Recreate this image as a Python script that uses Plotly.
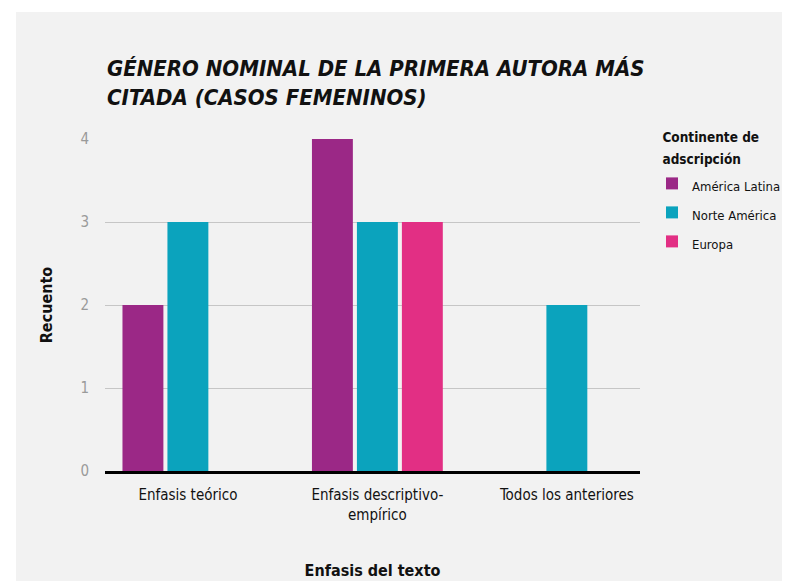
import plotly.graph_objects as go

categories = ["Enfasis teórico", "Enfasis descriptivo-<br>empírico", "Todos los anteriores"]
series_names = ["América Latina", "Norte América", "Europa"]
america_latina = [2, 4, None]
norte_america = [3, 3, 2]
europa = [None, 3, None]
y_ticks = [0, 1, 2, 3, 4]

colors = ["#9b2886", "#0ba3bd", "#e22f84"]
FONT = "DejaVu Sans Condensed, Liberation Sans Narrow, Arial Narrow, sans-serif"
INK = "#111111"

fig = go.Figure()
for name, vals, col in zip(series_names, [america_latina, norte_america, europa], colors):
    fig.add_trace(go.Bar(
        x=categories, y=vals, name=f"<span style='font-size:13px'>{name}</span>",
        marker=dict(color=col, line=dict(width=0)),
    ))

# figure is drawn 8px right/down of the window corner (page body margin)
L, R, T, B = 97, 158, 131, 118
PW, PH = 790 - L - R, 581 - T - B
fig.update_layout(
    width=790, height=581,
    paper_bgcolor="#f2f2f2", plot_bgcolor="#f2f2f2",
    margin=dict(l=L, r=R, t=T, b=B, autoexpand=False),
    barmode="group", bargap=0.288, bargroupgap=0.09,
    font=dict(family=FONT, color=INK, size=15),
    title=dict(
        text="GÉNERO NOMINAL DE LA PRIMERA AUTORA MÁS<br>CITADA (CASOS FEMENINOS)",
        font=dict(family=FONT, size=22, color=INK, weight="bold", style="italic"),
        x=99/790, xref="container", xanchor="left",
        y=1 - 68/581, yref="container", yanchor="top",
    ),
    legend=dict(
        title=dict(text="<span style='font-size:13.5px'><b>&nbsp;&nbsp;Continente de<br>&nbsp;&nbsp;adscripción</b></span>",
                   font=dict(size=16.5, family=FONT, color=INK)),
        x=(644 - L) / PW, xanchor="left",
        y=(581 - B - 113) / PH, yanchor="top",
        font=dict(size=20, family=FONT, color=INK),
        bgcolor="rgba(0,0,0,0)", itemwidth=30,
    ),
)
fig.update_xaxes(
    range=[-0.4375, 2.386],
    showline=True, linecolor="#000000", linewidth=3,
    tickfont=dict(size=15, family=FONT, color=INK),
    ticks="outside", ticklen=8, tickcolor="rgba(0,0,0,0)",
    title=dict(text="<b>Enfasis del texto</b>", font=dict(size=16, family=FONT, color=INK), standoff=43),
    showgrid=False,
)
fig.update_yaxes(
    range=[0, 4], tickvals=y_ticks,
    showgrid=True, gridcolor="#c6c6c6", gridwidth=1,
    zeroline=False,
    tickfont=dict(size=15, family=FONT, color="#9a9a9a"),
    ticks="outside", ticklen=12, tickcolor="rgba(0,0,0,0)",
    title=dict(text="<b>Recuento</b>", font=dict(size=16, family=FONT, color=INK), standoff=23),
)
# white margins along the top and left edges of the sheet
fig.add_shape(type="rect", xref="paper", yref="paper",
              x0=-L / PW, x1=(790 - L) / PW,
              y0=(581 - B - 4) / PH, y1=(581 - B + 5) / PH,
              fillcolor="white", line=dict(width=0), layer="below")
fig.add_shape(type="rect", xref="paper", yref="paper",
              x0=-(L + 5) / PW, x1=-(L - 8) / PW,
              y0=-(B + 5) / PH, y1=(581 - B + 5) / PH,
              fillcolor="white", line=dict(width=0), layer="below")
fig.write_html("out.html")
